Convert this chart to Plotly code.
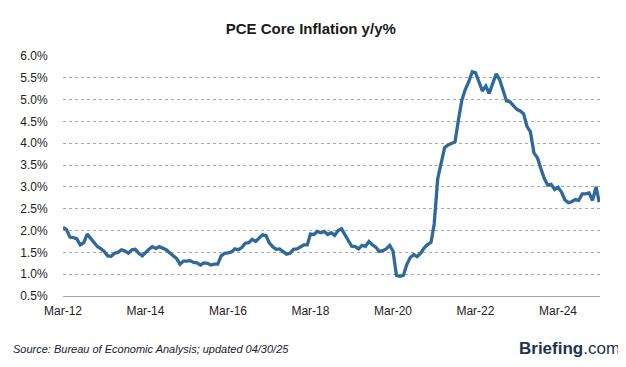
import pandas as pd
import plotly.graph_objects as go

start_month = "2012-03-01"
v2012 = [2.07, 2.02, 1.85, 1.84, 1.81, 1.67, 1.72, 1.92, 1.82, 1.72]
v2013 = [1.63, 1.58, 1.52, 1.42, 1.41, 1.48, 1.50, 1.56, 1.53, 1.48, 1.56, 1.57]
v2014 = [1.48, 1.42, 1.50, 1.57, 1.63, 1.59, 1.63, 1.59, 1.56, 1.49, 1.42, 1.36]
v2015 = [1.23, 1.30, 1.30, 1.31, 1.27, 1.26, 1.21, 1.26, 1.25, 1.21, 1.23, 1.23]
v2016 = [1.42, 1.48, 1.49, 1.51, 1.58, 1.56, 1.61, 1.71, 1.72, 1.80, 1.75, 1.82]
v2017 = [1.90, 1.88, 1.72, 1.63, 1.57, 1.58, 1.52, 1.46, 1.48, 1.57, 1.58, 1.63]
v2018 = [1.67, 1.67, 1.92, 1.91, 1.98, 1.95, 1.98, 1.91, 1.95, 1.89, 2.00, 2.04]
v2019 = [1.89, 1.76, 1.64, 1.63, 1.58, 1.66, 1.64, 1.75, 1.67, 1.62, 1.52, 1.54]
v2020 = [1.58, 1.66, 1.53, 0.97, 0.95, 0.97, 1.22, 1.38, 1.45, 1.40, 1.48, 1.60]
v2021 = [1.68, 1.73, 2.15, 3.19, 3.55, 3.90, 3.96, 3.99, 4.03, 4.53, 4.99, 5.23]
v2022 = [5.41, 5.64, 5.62, 5.41, 5.20, 5.31, 5.14, 5.37, 5.59, 5.46, 5.22, 4.97]
v2023 = [4.95, 4.85, 4.78, 4.74, 4.68, 4.38, 4.26, 3.78, 3.67, 3.42, 3.19, 3.04]
v2024 = [3.06, 2.94, 2.99, 2.88, 2.70, 2.64, 2.66, 2.71, 2.69, 2.84, 2.84, 2.86]
v2025 = [2.69, 3.00, 2.65]

values = (v2012 + v2013 + v2014 + v2015 + v2016 + v2017 + v2018 + v2019
          + v2020 + v2021 + v2022 + v2023 + v2024 + v2025)
months = pd.date_range(start_month, periods=len(values), freq="MS")

y_ticks = [0.5, 1.0, 1.5, 2.0, 2.5, 3.0, 3.5, 4.0, 4.5, 5.0, 5.5, 6.0]
y_tick_labels = ["0.5%", "1.0%", "1.5%", "2.0%", "2.5%", "3.0%",
                 "3.5%", "4.0%", "4.5%", "5.0%", "5.5%", "6.0%"]
x_tick_dates = ["2012-03-01", "2014-03-01", "2016-03-01", "2018-03-01",
                "2020-03-01", "2022-03-01", "2024-03-01"]
x_tick_labels = ["Mar-12", "Mar-14", "Mar-16", "Mar-18", "Mar-20", "Mar-22", "Mar-24"]

title_text = "PCE Core Inflation y/y%"
source_text = "Source: Bureau of Economic Analysis; updated 04/30/25"

fig = go.Figure()
fig.add_trace(go.Scatter(
    x=months, y=values, mode="lines",
    line=dict(color="#2f689a", width=3.3),
    hoverinfo="x+y",
))

font_main = "Liberation Sans, Arial, sans-serif"
PW = 618 - 47 - 26  # plot width in px

# the page body has an 8px margin; size the figure so no scrollbar appears
fig.update_layout(
    width=618, height=351,
    margin=dict(l=47, r=26, t=48, b=63),
    paper_bgcolor="white", plot_bgcolor="white",
    showlegend=False,
    font=dict(family=font_main, size=12, color="#222222"),
    title=dict(text="<b>" + title_text + "</b>", x=0.490, xanchor="center",
               y=1 - 21 / 351, yanchor="middle",
               font=dict(family=font_main, size=15, color="#1a1a1a")),
    xaxis=dict(
        range=["2012-03-01", "2025-03-08"],
        tickvals=x_tick_dates, ticktext=x_tick_labels,
        showgrid=False, zeroline=False,
        showline=True, linecolor="#a6a6a6", linewidth=1,
        ticks="outside", ticklen=4, tickcolor="rgba(0,0,0,0)",
        tickfont=dict(size=12, color="#222222"),
    ),
    yaxis=dict(
        range=[0.5, 6.0],
        tickvals=y_ticks, ticktext=y_tick_labels,
        showgrid=True, gridcolor="#a6a6a6", griddash="dot", gridwidth=1,
        zeroline=False, showline=False,
        ticks="outside", ticklen=12, tickcolor="rgba(0,0,0,0)",
        tickfont=dict(size=12, color="#222222"),
    ),
    annotations=[
        dict(text="<i>" + source_text + "</i>", xref="paper", yref="paper",
             x=-53 / PW, y=-(349 - 296) / 240, xanchor="left", yanchor="middle",
             showarrow=False, font=dict(family=font_main, size=11, color="#1a1a2e")),
        dict(text="<b>Briefing</b>.com", xref="paper", yref="paper",
             x=1 + 22 / PW, y=-(348 - 296) / 240, xanchor="right", yanchor="middle",
             showarrow=False, font=dict(family=font_main, size=17, color="#1d3354")),
    ],
)

fig.write_html("out.html")
